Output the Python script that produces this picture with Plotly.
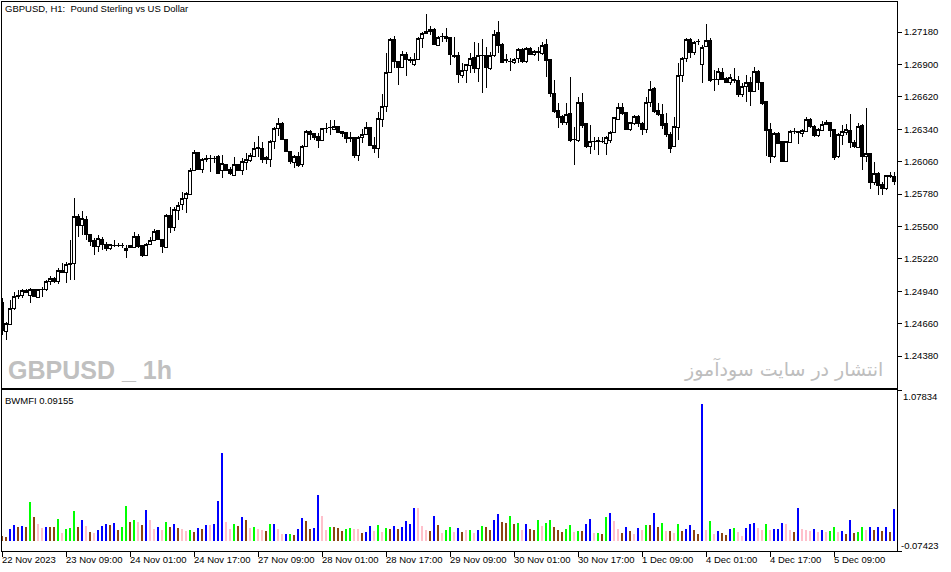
import plotly.graph_objects as go

# ---------------- data ----------------
opens = [1.24848,1.24591,1.24657,1.24796,1.24908,1.24908,1.24951,1.24908,1.24960,1.24891,
1.24960,1.24960,1.25029,1.25055,1.25023,1.25124,1.25101,1.25176,1.25182,1.25591,
1.25513,1.25565,1.25427,1.25377,1.25326,1.25389,1.25349,1.25312,1.25340,1.25340,
1.25338,1.25306,1.25332,1.25321,1.25418,1.25332,1.25254,1.25349,1.25383,1.25464,
1.25389,1.25321,1.25599,1.25493,1.25637,1.25694,1.25744,1.25781,1.25988,1.26138,
1.25994,1.26089,1.26087,1.26092,1.26103,1.25982,1.26032,1.25997,1.25945,1.26038,
1.25983,1.26055,1.26069,1.26103,1.26176,1.26176,1.26095,1.26083,1.26233,1.26348,
1.26386,1.26256,1.26152,1.26055,1.26109,1.26032,1.26189,1.26325,1.26302,1.26282,
1.26247,1.26348,1.26354,1.26342,1.26368,1.26319,1.26310,1.26270,1.26270,1.26118,
1.26267,1.26291,1.26357,1.26204,1.26170,1.26426,1.26535,1.26829,1.27117,1.26924,
1.26872,1.26988,1.26947,1.26896,1.26939,1.27126,1.27166,1.27204,1.27204,1.27068,
1.27140,1.27146,1.27135,1.26982,1.26982,1.26803,1.26846,1.26889,1.26962,1.26867,
1.26982,1.26976,1.26867,1.26976,1.27174,1.27077,1.26939,1.26924,1.26915,1.26953,
1.27031,1.26924,1.27040,1.26988,1.27010,1.26997,1.27074,1.26945,1.26651,1.26501,
1.26449,1.26397,1.26478,1.26253,1.26247,1.26573,1.26386,1.26195,1.26234,1.26247,
1.26234,1.26219,1.26241,1.26310,1.26426,1.26530,1.26483,1.26340,1.26392,1.26455,
1.26392,1.26340,1.26570,1.26694,1.26501,1.26472,1.26386,1.26299,1.26189,1.26360,
1.26803,1.26953,1.27120,1.27005,1.27097,1.26902,1.27053,1.27111,1.26774,1.26772,
1.26832,1.26780,1.26746,1.26774,1.26766,1.26645,1.26708,1.26746,1.26671,1.26843,
1.26746,1.26578,1.26342,1.26103,1.26305,1.26233,1.26066,1.26227,1.26321,1.26325,
1.26305,1.26325,1.26426,1.26362,1.26285,1.26328,1.26383,1.26397,1.26342,1.26103,
1.26285,1.26314,1.26334,1.26227,1.26184,1.26377,1.26103,1.26132,1.25882,1.25960,
1.25859,1.25830,1.25939,1.25930]
highs = [1.24882,1.24677,1.24865,1.24934,1.24951,1.24960,1.24960,1.24969,1.24962,1.24962,
1.24980,1.25038,1.25072,1.25066,1.25139,1.25182,1.25196,1.25383,1.25744,1.25608,
1.25634,1.25591,1.25430,1.25398,1.25427,1.25407,1.25369,1.25349,1.25383,1.25358,
1.25360,1.25340,1.25340,1.25455,1.25435,1.25340,1.25358,1.25412,1.25476,1.25470,
1.25392,1.25608,1.25671,1.25671,1.25714,1.25801,1.25801,1.26003,1.26161,1.26146,
1.26089,1.26118,1.26118,1.26109,1.26118,1.26118,1.26040,1.26014,1.26103,1.26040,
1.26089,1.26132,1.26132,1.26233,1.26282,1.26233,1.26112,1.26247,1.26362,1.26440,
1.26406,1.26258,1.26154,1.26118,1.26146,1.26204,1.26330,1.26330,1.26310,1.26305,
1.26354,1.26392,1.26420,1.26420,1.26372,1.26325,1.26319,1.26319,1.26273,1.26282,
1.26340,1.26400,1.26362,1.26276,1.26487,1.26642,1.27002,1.27126,1.27149,1.26930,
1.27016,1.27010,1.26967,1.26997,1.27140,1.27183,1.27333,1.27232,1.27212,1.27149,
1.27169,1.27218,1.27137,1.27140,1.27010,1.26910,1.26901,1.27002,1.27092,1.27083,
1.27120,1.27053,1.27010,1.27198,1.27276,1.27083,1.26988,1.26953,1.26953,1.27040,
1.27040,1.27053,1.27049,1.27025,1.27053,1.27092,1.27117,1.26948,1.26766,1.26565,
1.26464,1.26565,1.26794,1.26362,1.26621,1.26651,1.26389,1.26377,1.26276,1.26276,
1.26276,1.26282,1.26328,1.26449,1.26565,1.26565,1.26492,1.26406,1.26464,1.26464,
1.26406,1.26621,1.26757,1.26703,1.26565,1.26556,1.26483,1.26319,1.26449,1.26910,
1.26967,1.27126,1.27129,1.27103,1.27120,1.27068,1.27250,1.27126,1.26852,1.26867,
1.26867,1.26794,1.26815,1.26867,1.26803,1.26737,1.26809,1.26794,1.26881,1.26852,
1.26749,1.26580,1.26392,1.26319,1.26319,1.26236,1.26236,1.26334,1.26354,1.26328,
1.26342,1.26444,1.26440,1.26377,1.26348,1.26411,1.26420,1.26406,1.26345,1.26305,
1.26377,1.26383,1.26469,1.26247,1.26392,1.26383,1.26521,1.26135,1.26055,1.25974,
1.25887,1.25945,1.25974,1.25974]
lows = [1.24563,1.24519,1.24649,1.24779,1.24874,1.24882,1.24925,1.24839,1.24891,1.24888,
1.24894,1.24943,1.24995,1.25014,1.25003,1.25096,1.25014,1.25038,1.25038,1.25407,
1.25427,1.25383,1.25332,1.25254,1.25282,1.25297,1.25288,1.25297,1.25326,1.25323,
1.25312,1.25225,1.25312,1.25312,1.25312,1.25239,1.25250,1.25340,1.25377,1.25383,
1.25269,1.25312,1.25446,1.25464,1.25556,1.25643,1.25614,1.25772,1.25982,1.25988,
1.25960,1.26060,1.25974,1.26052,1.25960,1.25917,1.25980,1.25945,1.25942,1.25980,
1.25945,1.25988,1.26060,1.26100,1.26103,1.26046,1.26038,1.26017,1.26170,1.26282,
1.26247,1.26146,1.26038,1.26008,1.26017,1.26017,1.26186,1.26247,1.26247,1.26181,
1.26244,1.26305,1.26291,1.26334,1.26305,1.26276,1.26219,1.26233,1.26089,1.26069,
1.26219,1.26288,1.26198,1.26132,1.26089,1.26360,1.26492,1.26824,1.26872,1.26723,
1.26869,1.26803,1.26910,1.26887,1.26936,1.27040,1.27161,1.27155,1.27068,1.27062,
1.27092,1.27097,1.26896,1.26953,1.26737,1.26780,1.26737,1.26824,1.26829,1.26751,
1.26651,1.26694,1.26852,1.26967,1.27002,1.26910,1.26915,1.26844,1.26904,1.26910,
1.26910,1.26910,1.26982,1.26973,1.26930,1.26982,1.26794,1.26621,1.26478,1.26348,
1.26377,1.26377,1.26233,1.26032,1.26233,1.26348,1.26176,1.26126,1.26161,1.26118,
1.26219,1.26118,1.26224,1.26305,1.26420,1.26464,1.26334,1.26328,1.26377,1.26362,
1.26291,1.26305,1.26535,1.26478,1.26455,1.26340,1.26276,1.26138,1.26186,1.26247,
1.26746,1.26924,1.26953,1.26982,1.27068,1.26737,1.27051,1.26746,1.26673,1.26723,
1.26766,1.26737,1.26723,1.26737,1.26621,1.26621,1.26578,1.26541,1.26665,1.26679,
1.26550,1.26112,1.26046,1.26089,1.26210,1.26055,1.26060,1.26219,1.26296,1.26210,
1.26276,1.26319,1.26348,1.26276,1.26276,1.26325,1.26377,1.26276,1.26075,1.26095,
1.26204,1.26291,1.26176,1.26176,1.26181,1.25988,1.26060,1.25824,1.25858,1.25772,
1.25772,1.25815,1.25922,1.25859]
closes = [1.24606,1.24663,1.24796,1.24899,1.24899,1.24951,1.24929,1.24960,1.24895,1.24960,
1.24958,1.25029,1.25055,1.25021,1.25124,1.25101,1.25176,1.25185,1.25591,1.25510,
1.25573,1.25427,1.25369,1.25326,1.25398,1.25349,1.25312,1.25346,1.25338,1.25336,
1.25334,1.25293,1.25319,1.25412,1.25326,1.25254,1.25349,1.25383,1.25461,1.25389,
1.25326,1.25599,1.25493,1.25643,1.25686,1.25744,1.25787,1.25988,1.26138,1.25994,
1.26080,1.26075,1.26092,1.26087,1.25962,1.26046,1.25988,1.25954,1.26038,1.25983,
1.26060,1.26075,1.26118,1.26176,1.26179,1.26083,1.26075,1.26239,1.26348,1.26386,
1.26256,1.26152,1.26060,1.26103,1.26026,1.26195,1.26325,1.26291,1.26267,1.26247,
1.26348,1.26351,1.26356,1.26368,1.26310,1.26302,1.26262,1.26262,1.26118,1.26270,
1.26291,1.26357,1.26200,1.26170,1.26435,1.26539,1.26832,1.27117,1.26924,1.26872,
1.26988,1.26939,1.26933,1.26947,1.27126,1.27169,1.27189,1.27189,1.27074,1.27135,
1.27142,1.27129,1.26988,1.26973,1.26815,1.26852,1.26896,1.26953,1.26867,1.26982,
1.26978,1.26876,1.26982,1.27163,1.27068,1.26919,1.26935,1.26926,1.26945,1.27031,
1.26924,1.27040,1.26988,1.27010,1.27002,1.27068,1.26933,1.26651,1.26492,1.26444,
1.26397,1.26472,1.26247,1.26256,1.26573,1.26377,1.26195,1.26233,1.26239,1.26233,
1.26233,1.26270,1.26316,1.26440,1.26530,1.26478,1.26342,1.26400,1.26455,1.26392,
1.26340,1.26576,1.26685,1.26492,1.26464,1.26377,1.26299,1.26176,1.26368,1.26809,
1.26953,1.27120,1.27005,1.27092,1.27099,1.27049,1.27111,1.26766,1.26772,1.26838,
1.26774,1.26746,1.26786,1.26760,1.26645,1.26714,1.26746,1.26665,1.26843,1.26746,
1.26565,1.26334,1.26103,1.26305,1.26219,1.26060,1.26233,1.26325,1.26319,1.26316,
1.26334,1.26426,1.26362,1.26285,1.26340,1.26383,1.26400,1.26334,1.26095,1.26291,
1.26325,1.26342,1.26227,1.26189,1.26368,1.26103,1.26132,1.25882,1.25960,1.25853,
1.25830,1.25939,1.25936,1.25887]

mfi_values = [0.030,0.029,0.084,0.112,0.100,0.105,0.100,0.279,0.169,0.122,
0.093,0.100,0.100,0.100,0.155,0.057,0.086,0.091,0.215,0.100,
0.148,0.105,0.064,0.057,0.076,0.107,0.122,0.112,0.129,0.079,
0.100,0.251,0.136,0.148,0.136,0.112,0.220,0.148,0.084,0.100,
0.076,0.136,0.100,0.122,0.093,0.084,0.072,0.076,0.064,0.093,
0.086,0.115,0.115,0.122,0.286,0.630,0.136,0.086,0.122,0.105,
0.172,0.150,0.093,0.098,0.084,0.076,0.072,0.122,0.122,0.084,
0.050,0.050,0.050,0.043,0.084,0.165,0.143,0.086,0.093,0.329,
0.179,0.079,0.098,0.098,0.091,0.072,0.086,0.093,0.086,0.086,
0.057,0.064,0.107,0.072,0.115,0.064,0.093,0.086,0.107,0.086,
0.100,0.143,0.120,0.236,0.236,0.107,0.079,0.072,0.179,0.115,
0.057,0.079,0.100,0.064,0.093,0.064,0.079,0.076,0.057,0.079,
0.105,0.100,0.076,0.150,0.191,0.136,0.129,0.177,0.122,0.129,
0.079,0.122,0.086,0.079,0.148,0.107,0.129,0.148,0.100,0.079,
0.064,0.086,0.112,0.064,0.072,0.072,0.122,0.158,0.057,0.057,
0.050,0.172,0.198,0.141,0.086,0.057,0.100,0.072,0.050,0.093,
0.079,0.115,0.115,0.198,0.100,0.129,0.072,0.072,0.057,0.122,
0.072,0.086,0.115,0.079,0.050,0.979,0.079,0.143,0.050,0.072,
0.057,0.043,0.086,0.093,0.064,0.036,0.093,0.122,0.129,0.093,
0.079,0.122,0.079,0.086,0.086,0.129,0.122,0.079,0.064,0.234,
0.086,0.079,0.072,0.086,0.064,0.079,0.064,0.072,0.100,0.064,
0.072,0.050,0.150,0.057,0.064,0.100,0.079,0.100,0.079,0.100,
0.072,0.100,0.064,0.227]
# L = MFI up / volume up, S = down/down, B = up/down, P = down/up
mfi_codes = list(
"SSBBSBSLSPPBSSLPLLLSBPSPBBBSBSLLSLPSBPPBPLSBSPPLSBSBPBBBPPLSBSPLPPSLBPPBLSBBSSBBPPLSSSLLPPSBBPLPLSBSBBB"
"BPPPSBSPLLPBSPLPB"
"LSSBBSSLSLPBSSLPLLSSSLLPLSBBPLSLBPPSBSPBPLSBSLPSPLSBBSSBPLPBSSBLPPBBBPPLPBBBPPSBPPPBPBPLLPBSBSLLPBSBSBSB")

price_ticks = [1.27180, 1.26900, 1.26620, 1.26340, 1.26060, 1.25780,
               1.25500, 1.25220, 1.24940, 1.24660, 1.24380]
time_tick_bars = [0, 16, 32, 48, 64, 80, 96, 112, 128, 144, 160, 176, 192, 208]
time_tick_labels = ["22 Nov 2023", "23 Nov 09:00", "24 Nov 01:00", "24 Nov 17:00",
                    "27 Nov 09:00", "28 Nov 01:00", "28 Nov 17:00", "29 Nov 09:00",
                    "30 Nov 01:00", "30 Nov 17:00", "1 Dec 09:00", "4 Dec 01:00",
                    "4 Dec 17:00", "5 Dec 09:00"]
price_range = [1.24105, 1.27440]
mfi_range = [-0.07423, 1.07834]

# ---------------- figure ----------------
W, H = 951, 572
bars = list(range(len(opens)))
color_map = {"L": "#00FF00", "S": "#8B4513", "B": "#0000FF", "P": "#FFC0CB"}
mfi_colors = [color_map[c] for c in mfi_codes[:len(mfi_values)]]

FONT = "Liberation Sans, Arial, sans-serif"
fig = go.Figure()
fig.add_trace(go.Candlestick(
    x=bars, open=opens, high=highs, low=lows, close=closes,
    increasing=dict(line=dict(color="black", width=1), fillcolor="white"),
    decreasing=dict(line=dict(color="black", width=1), fillcolor="black"),
    whiskerwidth=0, xaxis="x", yaxis="y", showlegend=False, hoverinfo="skip"))
fig.add_trace(go.Bar(
    x=bars, y=mfi_values, marker=dict(color=mfi_colors, line=dict(width=0)),
    width=0.5, xaxis="x2", yaxis="y2", showlegend=False, hoverinfo="skip"))

xl, xr = 2 / W, 897 / W
xrange_ = [0, 223.75]
axis_common = dict(showgrid=False, zeroline=False, showline=True, mirror=True,
                   linecolor="black", linewidth=1)
fig.update_layout(
    width=W, height=H, autosize=False,
    margin=dict(l=0, r=0, t=0, b=0),
    paper_bgcolor="white", plot_bgcolor="white",
    boxgap=0.45, boxgroupgap=0,
    bargap=0,
    font=dict(family=FONT, size=9.5, color="black"),
    xaxis=dict(domain=[xl, xr], range=xrange_, anchor="y", showticklabels=False,
               ticks="", rangeslider=dict(visible=False), **axis_common),
    yaxis=dict(domain=[1 - 388 / H, 1 - 2 / H], range=price_range, side="right",
               anchor="x", tickvals=price_ticks, tickformat=".5f", ticks="outside",
               ticklen=4, tickcolor="black", tickfont=dict(family=FONT, size=9.5),
               **axis_common),
    xaxis2=dict(domain=[xl, xr], range=xrange_, anchor="y2", tickvals=time_tick_bars,
                ticks="outside", ticklen=5, tickcolor="black", showticklabels=False,
                **axis_common),
    yaxis2=dict(domain=[1 - 551 / H, 1 - 390 / H], range=mfi_range, side="right",
                anchor="x2", tickvals=mfi_range, ticks="outside", ticklen=4,
                tickcolor="black", showticklabels=False, **axis_common),
)

ann = []
for b, lab in zip(time_tick_bars, time_tick_labels):
    ann.append(dict(x=b, xref="x2", y=1 - 559 / H, yref="paper", text=lab,
                    showarrow=False, xanchor="left", yanchor="middle", xshift=-2,
                    font=dict(family=FONT, size=9.5, color="black")))
ann.append(dict(x=901 / W, xref="paper", y=1 - 396 / H, yref="paper",
                text=f"{mfi_range[1]:.5f}", showarrow=False, xanchor="left",
                yanchor="middle", font=dict(family=FONT, size=9.5)))
ann.append(dict(x=899 / W, xref="paper", y=1 - 545 / H, yref="paper",
                text=f"{mfi_range[0]:.5f}", showarrow=False, xanchor="left",
                yanchor="middle", font=dict(family=FONT, size=9.5)))
ann.append(dict(x=3 / W, xref="paper", y=1 - 9 / H, yref="paper",
                text="GBPUSD, H1:  Pound Sterling vs US Dollar", showarrow=False,
                xanchor="left", yanchor="middle", font=dict(family=FONT, size=9.5)))
ann.append(dict(x=3 / W, xref="paper", y=1 - 400 / H, yref="paper",
                text="BWMFI 0.09155", showarrow=False,
                xanchor="left", yanchor="middle", font=dict(family=FONT, size=9.5)))
ann.append(dict(x=6 / W, xref="paper", y=1 - 370 / H, yref="paper",
                text="<b>GBPUSD _ 1h</b>", showarrow=False, xanchor="left",
                yanchor="middle",
                font=dict(family="Liberation Sans, Arial, sans-serif",
                          size=25, color="#C0C0C0")))
ann.append(dict(x=885 / W, xref="paper", y=1 - 369 / H, yref="paper",
                text="انتشار در سایت سودآموز", showarrow=False, xanchor="right",
                yanchor="middle",
                font=dict(family="DejaVu Sans, sans-serif", size=19, color="#BEBEBE")))
fig.update_layout(annotations=ann)

post = ("document.body.style.margin='0';document.body.style.padding='0';"
        "document.querySelectorAll('.boxlayer path, .barlayer path')"
        ".forEach(function(p){p.style.shapeRendering='crispEdges';});")
fig.write_html("out.html", config={"displayModeBar": False, "staticPlot": True},
               post_script=post)
